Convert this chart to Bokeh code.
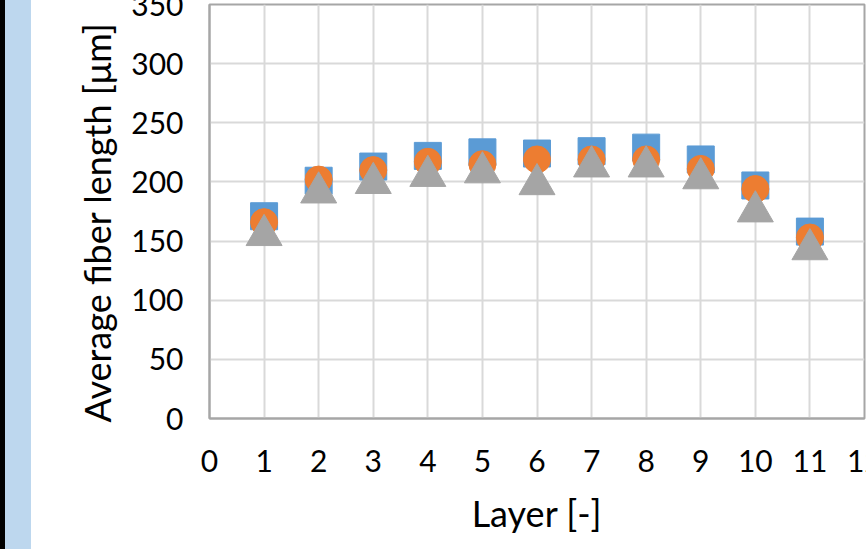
from bokeh.plotting import figure
from bokeh.models import FixedTicker, Range1d, Div, Title
from bokeh.layouts import row
from bokeh.embed import file_html
from bokeh.resources import INLINE

# ---- data ----
layers = [1, 2, 3, 4, 5, 6, 7, 8, 9, 10, 11]
series_square = [171, 201, 213, 222, 225, 224, 226, 229, 219, 197, 158]
series_circle = [166, 202, 210, 217, 215, 219, 219, 219, 211, 194, 153]
series_triangle = [155, 191, 199, 205, 208, 198, 213, 213, 203, 175, 143]
x_ticks = list(range(0, 13))
y_ticks = list(range(0, 351, 50))
x_title = "Layer [-]"
y_title = "Average fiber length [μm]"

FONT = "Lato"
GRID = "#D9D9D9"
FRAME = "#A6A6A6"

p = figure(width=862, height=557,
           x_range=Range1d(0, 12), y_range=Range1d(0, 350),
           output_backend="svg", toolbar_location=None,
           min_border_left=173, min_border_right=34,
           min_border_top=12, min_border_bottom=131)

p.background_fill_color = "white"
p.border_fill_color = "white"
p.outline_line_color = FRAME
p.outline_line_width = 2

p.scatter(layers, series_square, marker="square", size=27,
          fill_color="#5B9BD5", line_color="#5B9BD5")
p.scatter(layers, series_circle, marker="circle", size=27,
          fill_color="#ED7D31", line_color="#ED7D31")
p.scatter(layers, series_triangle, marker="triangle", size=36,
          fill_color="#A5A5A5", line_color="#A5A5A5")

for ax in (p.xaxis[0], p.yaxis[0]):
    ax.major_tick_line_color = None
    ax.minor_tick_line_color = None
    ax.axis_line_color = FRAME
    ax.axis_line_width = 2
    ax.major_label_text_font = FONT
    ax.major_label_text_font_size = "30px"
    ax.major_label_text_color = "#000000"
    ax.axis_label_text_font = FONT
    ax.axis_label_text_font_size = "36px"
    ax.axis_label_text_font_style = "normal"
    ax.axis_label_text_color = "#000000"

p.xaxis.major_label_standoff = 25
p.yaxis.major_label_standoff = 20

p.xaxis.ticker = FixedTicker(ticks=x_ticks)
p.yaxis.ticker = FixedTicker(ticks=y_ticks)
p.xaxis.axis_label = x_title
p.xaxis.axis_label_standoff = 16

# y title as a side title, starting just below the frame bottom (as in the reference)
ytitle = Title(text=y_title, align="left", offset=-4, standoff=20,
               text_font=FONT, text_font_size="36px",
               text_font_style="normal", text_color="#000000")
p.add_layout(ytitle, "left")

p.xgrid.ticker = FixedTicker(ticks=x_ticks)
p.ygrid.ticker = FixedTicker(ticks=y_ticks)
p.xgrid.grid_line_color = GRID
p.ygrid.grid_line_color = GRID
p.xgrid.grid_line_width = 2
p.ygrid.grid_line_width = 2

strip = Div(width=34, height=557,
            styles={"background": "linear-gradient(to right, #000000 0px, #000000 8px, #BDD7EE 8px, #BDD7EE 34px)"})

layout = row(strip, p, spacing=0)
layout.styles = {"margin-left": "-8px", "margin-top": "-8px"}

open("out.html", "w").write(file_html(layout, INLINE))
